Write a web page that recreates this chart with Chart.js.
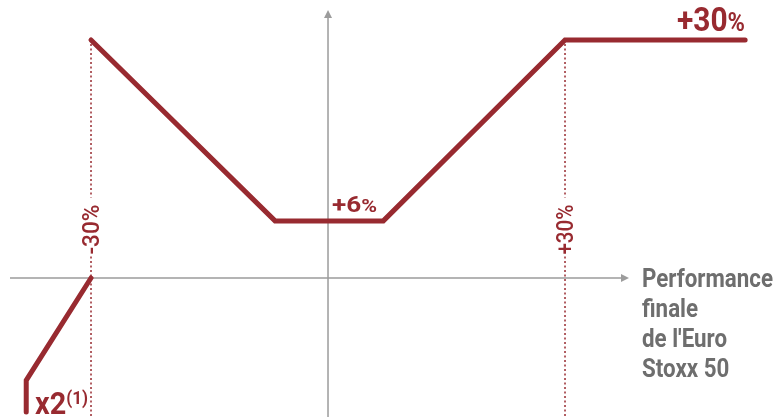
<!DOCTYPE html>
<html>
<head>
<meta charset="utf-8">
<script src="https://cdn.jsdelivr.net/npm/chart.js@4"></script>
<style>
  html, body { margin: 0; padding: 0; background: #fff; }
  #wrap { width: 784px; height: 417px; position: relative; }
</style>
</head>
<body>
<div id="wrap"><canvas id="payoff"></canvas></div>
<script>
// Payoff profile vs. final Euro Stoxx 50 performance (in %)
const legX = [-38.2, -38.2, -30];
const legY = [-16.9, -12.9, 0];
const payX = [-30, -6.7, 7.0, 30, 52.8];
const payY = [30, 7.2, 7.2, 30, 30];
const barrierX = [-30, 30];
const barrierLabels = ['-30%', '+30%'];
const floorLabel = '+6%';
const capLabel = '+30%';
const leverLabel = 'x2';
const leverNote = '(1)';
const axisTitle = ['Performance', 'finale', "de l'Euro", 'Stoxx 50'];

const RED = '#982a30';
const GREY = '#9c9c9c';
const TXT = '#6e6e6e';
const FONT = 'Roboto, "DejaVu Sans", sans-serif';

const toPoints = (xs, ys) => xs.map((x, i) => ({ x: x, y: ys[i] }));

// draws a run of text pieces squeezed to a given width (condensed look)
function drawFitted(ctx, parts, x, y, width) {
  let natural = 0;
  parts.forEach((p) => {
    ctx.font = (p.weight || 'bold') + ' ' + p.size + 'px ' + FONT;
    natural += ctx.measureText(p.text).width;
  });
  ctx.save();
  ctx.translate(x, y);
  ctx.scale(width / natural, 1);
  let cx = 0;
  parts.forEach((p) => {
    ctx.font = (p.weight || 'bold') + ' ' + p.size + 'px ' + FONT;
    ctx.fillText(p.text, cx, -(p.rise || 0));
    cx += ctx.measureText(p.text).width;
  });
  ctx.restore();
}

const decor = {
  id: 'decor',
  beforeDatasetsDraw(chart) {
    const ctx = chart.ctx;
    const xs = chart.scales.x, ys = chart.scales.y;
    const x0 = xs.getPixelForValue(0), y0 = ys.getPixelForValue(0);
    ctx.save();
    // axes
    ctx.strokeStyle = GREY;
    ctx.fillStyle = GREY;
    ctx.lineWidth = 1.5;
    ctx.beginPath();
    ctx.moveTo(10, y0); ctx.lineTo(622, y0);
    ctx.moveTo(x0, 417); ctx.lineTo(x0, 16);
    ctx.stroke();
    ctx.beginPath();
    ctx.moveTo(629, y0); ctx.lineTo(621, y0 - 4); ctx.lineTo(621, y0 + 4); ctx.closePath();
    ctx.moveTo(x0, 10); ctx.lineTo(x0 - 4, 18); ctx.lineTo(x0 + 4, 18); ctx.closePath();
    ctx.fill();

    // dotted barrier guides with a gap for the rotated label
    ctx.strokeStyle = RED;
    ctx.lineWidth = 1.5;
    ctx.setLineDash([2, 2.5]);
    barrierX.forEach((bx) => {
      const px = xs.getPixelForValue(bx);
      const mid = ys.getPixelForValue(6.1);
      ctx.beginPath();
      ctx.moveTo(px, ys.getPixelForValue(29.5)); ctx.lineTo(px, mid - 32);
      ctx.moveTo(px, mid + 27); ctx.lineTo(px, 417);
      ctx.stroke();
    });
    ctx.restore();
  },
  afterDatasetsDraw(chart) {
    const ctx = chart.ctx;
    const xs = chart.scales.x, ys = chart.scales.y;
    ctx.save();
    ctx.textBaseline = 'alphabetic';
    ctx.fillStyle = RED;

    // rotated barrier labels
    barrierX.forEach((bx, i) => {
      ctx.save();
      ctx.translate(xs.getPixelForValue(bx) - 1, ys.getPixelForValue(6.1));
      ctx.rotate(-Math.PI / 2);
      drawFitted(ctx, [{ text: barrierLabels[i], size: 24, weight: '500' }], -25, 8.5, 50);
      ctx.restore();
    });

    // cap & floor labels
    drawFitted(ctx, [{ text: capLabel.slice(0, -1), size: 33 }, { text: '%', size: 26 }], 677, 31, 68);
    drawFitted(ctx, [{ text: floorLabel.slice(0, -1), size: 22 }, { text: '%', size: 18 }], 332, 212, 45);

    // leverage label
    drawFitted(ctx, [{ text: leverLabel, size: 32 }, { text: leverNote, size: 19, rise: 10 }], 35, 414, 53);

    // axis title
    ctx.fillStyle = TXT;
    ctx.font = 'bold 25px ' + FONT;
    const squeeze = 131 / ctx.measureText(axisTitle[0]).width;
    axisTitle.forEach((line, i) => {
      ctx.font = 'bold 25px ' + FONT;
      const w = ctx.measureText(line).width * squeeze;
      drawFitted(ctx, [{ text: line, size: 25 }], 642, 287 + i * 30, w);
    });
    ctx.restore();
  },
};

new Chart(document.getElementById('payoff').getContext('2d'), {
  type: 'scatter',
  data: {
    datasets: [
      {
        data: toPoints(legX, legY),
        showLine: true,
        borderColor: RED,
        borderWidth: 5,
        borderCapStyle: 'round',
        borderJoinStyle: 'miter',
        pointRadius: 0,
        tension: 0,
      },
      {
        data: toPoints(payX, payY),
        showLine: true,
        borderColor: RED,
        borderWidth: 5,
        borderCapStyle: 'round',
        borderJoinStyle: 'miter',
        pointRadius: 0,
        tension: 0,
      },
    ],
  },
  options: {
    responsive: true,
    maintainAspectRatio: false,
    animation: false,
    layout: { padding: 0 },
    plugins: { legend: { display: false }, tooltip: { enabled: false } },
    scales: {
      x: { type: 'linear', min: -41.52, max: 57.72, display: false },
      y: { type: 'linear', min: -17.52, max: 35.04, display: false },
    },
  },
  plugins: [decor],
});
</script>
</body>
</html>
